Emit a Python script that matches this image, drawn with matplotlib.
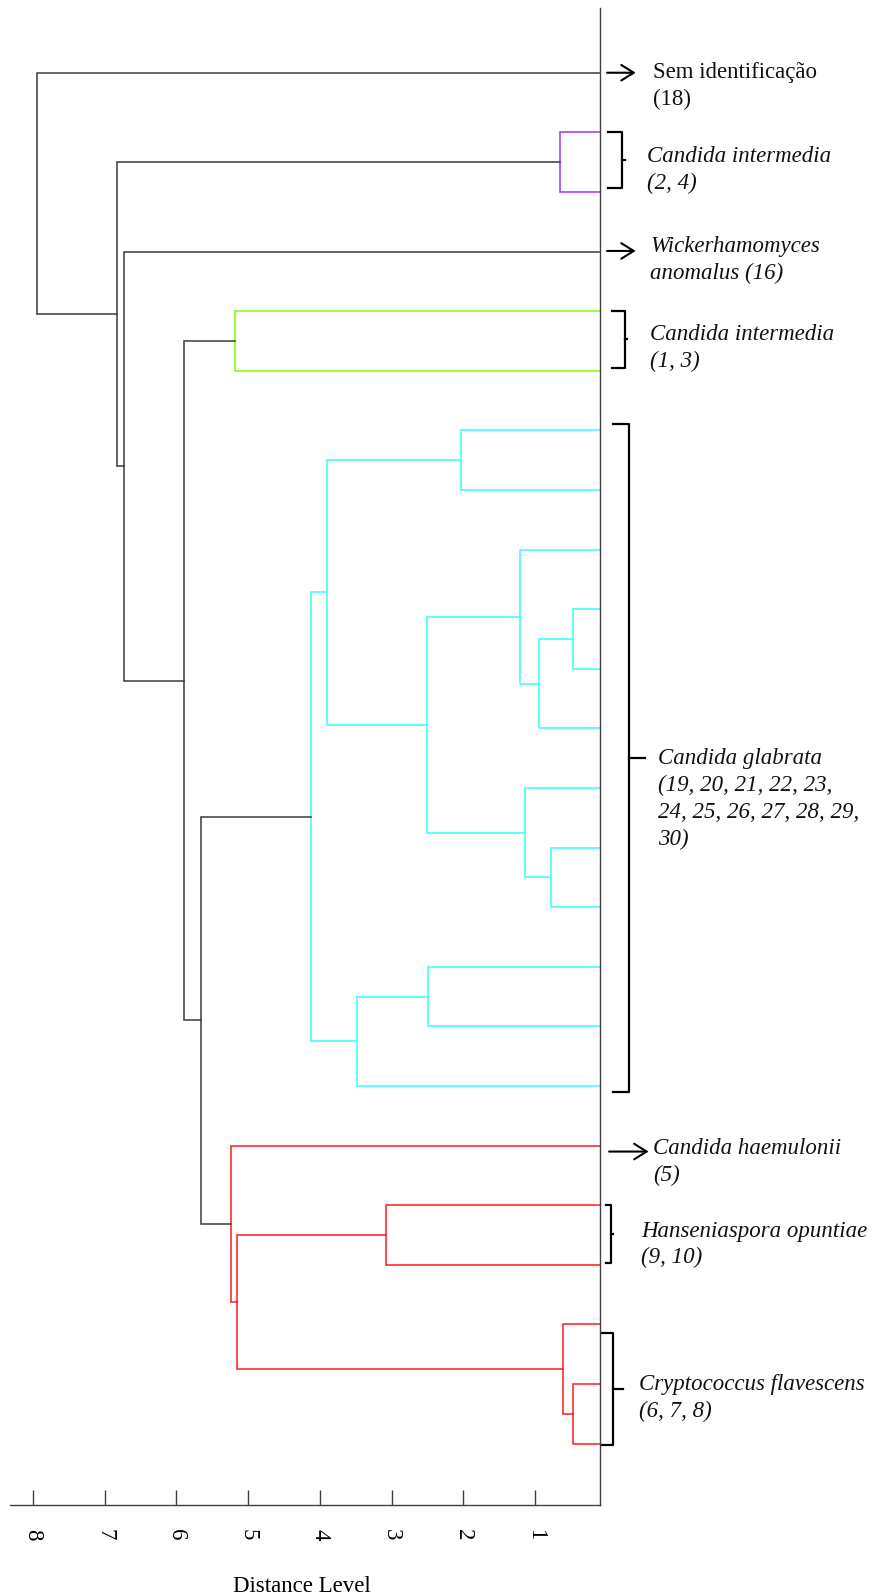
import matplotlib
matplotlib.use("Agg")
import matplotlib.pyplot as plt

plt.rcParams['font.family'] = ['Liberation Serif', 'DejaVu Serif']

# isolates, top to bottom along the tree
leaf_ids = [18, 2, 4, 16, 1, 3,
            19, 20, 21, 22, 23, 24, 25, 26, 27, 28, 29, 30,
            5, 9, 10, 6, 7, 8]

# merges: (child a, child b, distance level, cluster colour)
# children 0..23 are leaves, new nodes get ids 24, 25, ...
merge_a = [1, 4, 6, 9, 27, 8, 13, 12, 29, 26, 15, 34, 33, 19, 22, 21, 37, 18, 36, 25, 3, 24, 0]
merge_b = [2, 5, 7, 10, 11, 28, 14, 30, 31, 32, 16, 17, 35, 20, 23, 38, 39, 40, 41, 42, 43, 44, 45]
merge_h = [0.66, 5.19, 2.04, 0.48, 0.95, 1.21, 0.78, 1.14, 2.51, 3.90, 2.49, 3.48, 4.13,
           3.08, 0.48, 0.61, 5.16, 5.24, 5.65, 5.89, 6.73, 6.83, 7.94]
merge_c = ['purple', 'green', 'cyan', 'cyan', 'cyan', 'cyan', 'cyan', 'cyan', 'cyan', 'cyan',
           'cyan', 'cyan', 'cyan', 'red', 'red', 'red', 'red', 'red',
           'black', 'black', 'black', 'black', 'black']

ticks = [1, 2, 3, 4, 5, 6, 7, 8]

# group labels: text, italic, first leaf, last leaf, marker type
group_text = ["Sem identificação\n(18)",
              "Candida intermedia\n(2, 4)",
              "Wickerhamomyces\nanomalus (16)",
              "Candida intermedia\n(1, 3)",
              "Candida glabrata\n(19, 20, 21, 22, 23,\n24, 25, 26, 27, 28, 29,\n30)",
              "Candida haemulonii\n(5)",
              "Hanseniaspora opuntiae\n(9, 10)",
              "Cryptococcus flavescens\n(6, 7, 8)"]
group_italic = [False, True, True, True, True, True, True, True]
group_first = [0, 1, 3, 4, 6, 18, 19, 21]
group_last = [0, 2, 3, 5, 17, 18, 20, 23]
group_kind = ['arrow', 'brace', 'arrow', 'brace', 'brace', 'arrow', 'brace', 'brace']

colors = {'purple': '#9933FF', 'green': '#80FF00', 'cyan': '#33FFFF',
          'red': '#FF1A1A', 'black': '#3a3a3a'}

fig = plt.figure(figsize=(8.79, 15.96), dpi=100)
ax = fig.add_axes([10 / 879, 91 / 1596, 590 / 879, 1497 / 1596])

ypos = {k: float(k) for k in range(len(leaf_ids))}
hgt = {k: 0.0 for k in range(len(leaf_ids))}
for i, (a, b, h, c) in enumerate(zip(merge_a, merge_b, merge_h, merge_c)):
    ax.plot([hgt[a], h, h, hgt[b]], [ypos[a], ypos[a], ypos[b], ypos[b]],
            color=colors[c], lw=1.1, solid_joinstyle='miter')
    node = len(leaf_ids) + i
    ypos[node] = (ypos[a] + ypos[b]) / 2
    hgt[node] = h

ax.set_xlim(8.318, 0.0975)
ax.set_ylim(24.03, -1.086)

for s in ['top', 'left']:
    ax.spines[s].set_visible(False)
for s in ['bottom', 'right']:
    ax.spines[s].set_color('#404040')
    ax.spines[s].set_linewidth(1.0)
ax.set_yticks([])
ax.set_xticks(ticks)
ax.set_xticklabels([str(t) for t in ticks], rotation=270, fontsize=16.5)
ax.tick_params(axis='x', direction='in', length=11, width=1.0, color='#404040', pad=17)

# annotations to the right of the tree
text_x = [-0.645, -0.553, -0.60, -0.60, -0.715, -0.64, -0.48, -0.44]
text_dy = [0.22, 0.13, 0.14, 0.12, 0.68, 0.28, 0.16, 0.23]
brace_x = {1: (-0.018, -0.205, -0.25), 3: (-0.074, -0.25, -0.28), 4: (-0.08, -0.31, -0.53),
           6: (0.014, -0.051, -0.088), 7: (0.073, -0.088, -0.22)}
brace_pad = {1: (0.01, -0.06), 3: (0.01, -0.04), 4: (0.1, 0.1), 6: (0.0, -0.03), 7: (-0.14, 0.03)}
arrow_dy = [0.0, 0.0, -0.01, 0.0, 0.0, 0.1, 0.0, 0.0]
arrow_x = {0: (0.0, -0.40), 2: (0.0, -0.40), 5: (-0.03, -0.58)}

for i, txt in enumerate(group_text):
    first, last = group_first[i], group_last[i]
    mid = (ypos[first] + ypos[last]) / 2
    if group_kind[i] == 'arrow':
        x0, x1 = arrow_x[i]
        ax.annotate('', xy=(x1, mid + arrow_dy[i]), xytext=(x0, mid + arrow_dy[i]),
                    arrowprops=dict(arrowstyle='->,head_length=0.45,head_width=0.28',
                                    lw=1.5, color='black', shrinkA=0, shrinkB=0,
                                    mutation_scale=20),
                    annotation_clip=False)
    else:
        xl, xv, xt = brace_x[i]
        top = ypos[first] - brace_pad[i][0]
        bot = ypos[last] + brace_pad[i][1]
        bmid = (top + bot) / 2
        ax.plot([xl, xv, xv, xl], [top, top, bot, bot], color='black', lw=1.6,
                clip_on=False, solid_joinstyle='round')
        ax.plot([xv, xt], [bmid, bmid], color='black', lw=1.6, clip_on=False)
    ax.text(text_x[i], mid + text_dy[i], txt,
            fontsize=16.5, style='italic' if group_italic[i] else 'normal',
            ha='left', va='center', linespacing=1.36, color='#111111', clip_on=False)

fig.text(302 / 879, 1 - 1586 / 1596, "Distance Level", fontsize=16.5,
         ha='center', va='center')

fig.savefig("out.png", dpi=100)
